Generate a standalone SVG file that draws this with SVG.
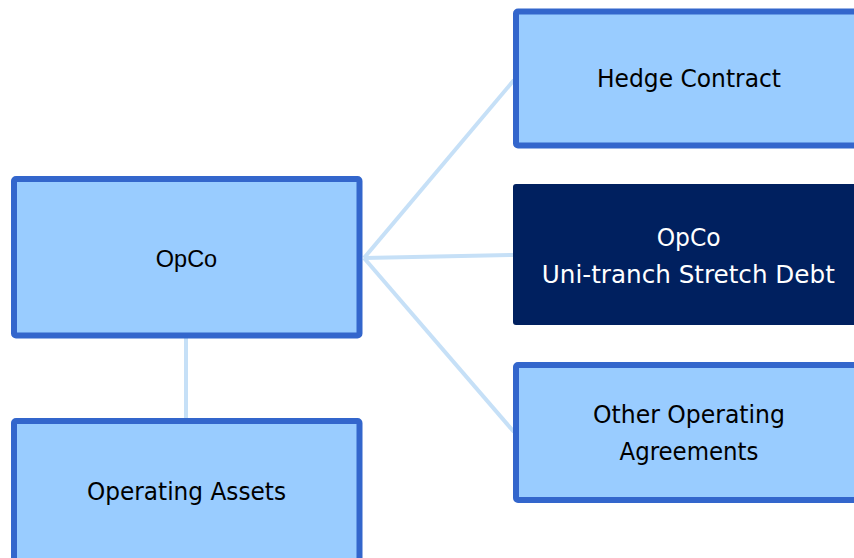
<svg xmlns="http://www.w3.org/2000/svg" width="854" height="558" viewBox="0 0 854 558">
<style>
.box{fill:#99ccff;stroke:#3366cc;stroke-width:6}
.dark{fill:#00205f}
.conn{stroke:#c6e0f7;stroke-width:4;fill:none}
.t{font-family:"DejaVu Sans Condensed","DejaVu Sans",Verdana,sans-serif;font-stretch:condensed;font-size:25.5px;fill:#000;text-anchor:middle}
.tw{fill:#fff}
.ta{font-family:"Liberation Sans",Arial,sans-serif;font-size:23.5px;fill:#000;text-anchor:middle}
</style>
<rect width="854" height="558" fill="#fff"/>
<g id="connectors">
<line class="conn" x1="186" y1="338" x2="186" y2="418"/>
<line class="conn" x1="364" y1="258" x2="514" y2="80"/>
<line class="conn" x1="364" y1="258" x2="514" y2="255"/>
<line class="conn" x1="364" y1="258" x2="514" y2="432"/>
</g>
<g id="opco">
<rect class="box" x="14" y="179" width="345.5" height="156.5" rx="2"/>
<text class="ta" x="186.5" y="267">OpCo</text>
</g>
<g id="operating-assets">
<rect class="box" x="14" y="421" width="345.5" height="150" rx="2"/>
<text class="t" x="186.5" y="499.5" textLength="199" lengthAdjust="spacingAndGlyphs">Operating Assets</text>
</g>
<g id="hedge-contract">
<rect class="box" x="516" y="11.5" width="345" height="134" rx="2"/>
<text class="t" x="689" y="87" textLength="184" lengthAdjust="spacingAndGlyphs">Hedge Contract</text>
</g>
<g id="opco-debt">
<rect class="dark" x="513" y="184" width="351" height="141" rx="3"/>
<text class="t tw" x="688.7" y="246" textLength="64" lengthAdjust="spacingAndGlyphs">OpCo</text>
<text class="t tw" x="688.3" y="283" textLength="293" lengthAdjust="spacingAndGlyphs">Uni-tranch Stretch Debt</text>
</g>
<g id="other-operating">
<rect class="box" x="516" y="365" width="345" height="135" rx="2"/>
<text class="t" x="689" y="422.5" textLength="192" lengthAdjust="spacingAndGlyphs">Other Operating</text>
<text class="t" x="689" y="460" textLength="139" lengthAdjust="spacingAndGlyphs">Agreements</text>
</g>
</svg>
